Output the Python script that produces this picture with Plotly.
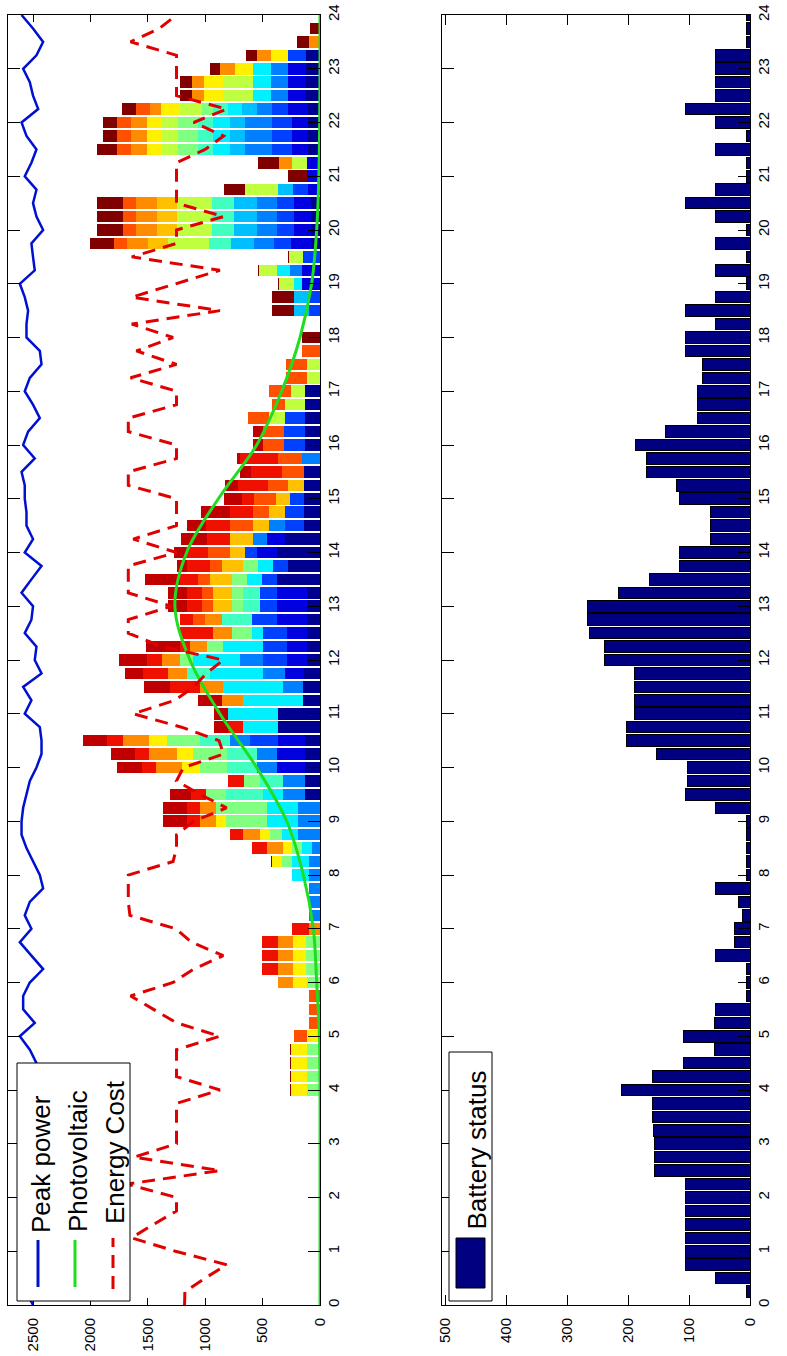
import plotly.graph_objects as go

W, H = 787, 1356

# ---------------- data ----------------
slot_hours = [i / 4 for i in range(97)]          # 15-minute slots, 0 .. 24 h
hour_ticks = list(range(25))
power_ticks = [0, 500, 1000, 1500, 2000, 2500]
battery_ticks = [0, 100, 200, 300, 400, 500]

pv_hours = list(range(25))
photovoltaic = [0, 0, 0, 0, 0, 5, 29, 58, 145, 290, 552, 872, 1133, 1264, 1162,
                886, 552, 334, 174, 73, 29, 10, 3, 0, 0]

energy_cost = [1180, 1177, 1000, 814, 1260, 1642, 1450, 1250, 1250, 1680, 872, 1620,
               1250, 1250, 1250, 1250, 872, 1250, 1250, 1250, 872, 1250, 1450, 1650,
               1280, 1100, 843, 1120, 1255, 1656, 1670, 1670, 1670, 1280, 1250, 1250,
               1100, 814, 1046, 1250, 1190, 840, 880, 1206, 1627, 1264, 1100, 990,
               843, 1380, 1670, 1670, 1293, 1670, 1670, 1670, 1250, 1627, 1250, 1250,
               1250, 1670, 1670, 1250, 1250, 1670, 1670, 1250, 1250, 1650, 1250, 1600,
               1280, 1640, 872, 1640, 1250, 872, 1640, 1250, 1250, 840, 1250, 1250,
               1250, 1250, 1000, 840, 1100, 814, 1250, 1250, 1250, 1250, 1650, 1400,
               1250]

peak_power = [2500, 2560, 2470, 2530, 2600, 2480, 2520, 2450, 2560, 2590, 2500, 2440,
              2520, 2580, 2490, 2540, 2470, 2510,
              2470, 2528, 2615, 2485, 2586, 2586,
              2528, 2412, 2514, 2615, 2514, 2572, 2528, 2412, 2441, 2500, 2557, 2600,
              2600, 2586, 2557, 2528, 2470, 2426, 2426, 2441, 2572, 2514, 2586, 2426,
              2485, 2470, 2572, 2514, 2500, 2600, 2514, 2426, 2572, 2500, 2557, 2557,
              2572, 2572, 2600, 2485, 2586, 2543, 2441, 2500, 2572, 2528, 2426, 2441,
              2557, 2557, 2543, 2572, 2615, 2485, 2500, 2514, 2412, 2470, 2500, 2470,
              2572, 2514, 2470, 2557, 2600, 2455, 2500, 2528, 2586, 2470, 2412, 2500,
              2600]

battery_status = [0, 5, 57, 105, 105, 105, 105, 105, 105, 105, 156, 156,
                  156, 158, 160, 160, 210, 160, 109, 59, 109, 59, 56, 5,
                  5, 5, 56, 25, 25, 12, 19, 56, 5, 5, 5, 5,
                  5, 56, 105, 103, 103, 154, 203, 203, 190, 190, 190, 190,
                  239, 239, 263, 266, 266, 216, 164, 116, 116, 64, 64, 64,
                  116, 120, 169, 169, 187, 138, 86, 86, 86, 78, 78, 105,
                  105, 56, 105, 56, 5, 56, 5, 56, 5, 56, 105, 56,
                  5, 5, 56, 5, 56, 105, 56, 56, 56, 56, 5, 5,
                  5]

# appliance loads per 15-min slot (slots 0..15 are empty)
load01 = [0] * 16 + [0] * 20 + [
    0, 0, 131, 131, 131, 131, 131, 363, 363, 145, 145, 140, 116, 116, 116, 116,
    116, 116, 378, 276, 378, 305, 140, 140, 140, 140, 140, 0, 131, 131, 131, 131,
    131, 0, 0, 0, 0, 0, 0, 0, 0, 0, 0, 80, 80, 80, 80, 0,
    0, 0, 102, 102, 102, 102, 122, 122, 122, 122, 0, 0, 0]
load02 = [0] * 16 + [0] * 24 + [
    247, 247, 232, 0, 0, 0, 0, 166, 174, 174, 174, 261, 261, 261, 0, 0,
    174, 160, 0, 0] + [0] * 16 + [
    160, 160, 0, 174, 150, 150, 150, 102, 110, 110, 145, 145, 145, 174, 154, 154,
    154, 0, 0, 0, 0]
load03 = [0] * 16 + [0] * 24 + [
    0, 0, 247, 0, 0, 0, 0, 0, 203, 203, 203, 218, 145, 145, 131, 131,
    102, 0, 166, 166, 122, 0, 0, 0, 180, 180, 174, 0, 0, 0, 0, 0,
    0, 0, 100, 100, 0, 0, 146, 145, 145, 145, 145, 131, 0, 0, 174, 174,
    174, 145, 0, 0, 0, 154, 0, 0, 0]
load04 = [0] * 16 + [0] * 12 + [
    0, 100, 100, 100, 100, 100, 70, 190, 190, 190, 189, 189, 174, 174, 174, 0,
    0, 0, 180, 189, 203, 0, 0, 0, 0, 0, 0, 0, 0, 116, 137, 0,
    0, 0, 0, 160] + [0] * 12 + [
    0, 102, 0, 174, 174, 174, 174, 0, 0, 0, 232, 232, 232, 131, 154, 154,
    154, 0, 0, 0, 0]
load05 = [0] * 16 + [0] * 56 + [
    0, 0, 125, 125, 0, 0, 0, 203, 203, 203, 203, 131, 0, 0, 131, 131,
    131, 131, 0, 0, 0, 0, 0, 0, 0]
load06 = [0] * 16 + [0] * 16 + [
    145, 145, 90, 145, 275, 275, 175, 0, 0, 0, 0, 305, 436, 523, 517, 465,
    407, 349, 102, 0, 0, 0, 131, 131] + [0] * 20 + [
    67, 116, 0, 0, 0, 0, 0, 0, 0, 0, 145, 145, 145, 116, 157, 157,
    157, 0, 0, 0, 0]
load07 = [0] * 16 + [0] * 20 + [
    0, 0, 320, 203, 262, 262, 262, 0, 0, 0, 0, 203, 0, 0, 0, 262,
    145, 145, 0, 0] + [0] * 20 + [
    0, 0, 0, 189, 189, 189, 189, 0, 0, 0, 131, 131, 131, 131, 0, 0,
    0, 0, 0, 0, 0]
load08 = [0] * 16 + [
    116, 116, 116, 116, 0, 0, 0, 0, 116, 122, 122, 122, 0, 0, 0, 0,
    0, 87, 87, 100, 350, 437, 175, 137, 232, 290, 290, 0, 0, 0, 0, 0,
    116, 145, 174, 0, 102, 102, 131, 131] + [0] * 28 + [
    0, 0, 174, 174, 174, 102, 0, 0, 0, 0, 0, 0, 0]
load09 = [0] * 16 + [0] * 48 + [
    0, 0, 137, 174, 122, 116, 116, 0, 0, 0, 0, 0, 128, 151, 125, 359,
    305, 305, 305, 290, 0, 137, 145, 145, 145, 189, 262, 262, 0, 0, 0, 0,
    0]
load10 = [0] * 16 + [
    134, 134, 134, 134, 110, 0, 0, 0, 116, 116, 116, 116, 0, 0, 0, 0,
    0, 87, 73, 87, 87, 0, 0, 0, 160, 145, 151, 0] + [0] * 40 + [
    0, 0, 131, 131, 131, 160, 163, 163, 154, 154, 0, 0, 0]
load11 = [0] * 16 + [0] * 36 + [
    160, 160, 189, 189, 131, 203, 140, 137, 125, 137, 0, 0] + [0] * 12 + [
    0, 0, 0, 174, 174, 174, 174, 0] + [0] * 12 + [0]
load12 = [0] * 16 + [
    0, 0, 0, 0, 0, 0, 0, 0, 130, 125, 125, 125, 100, 0, 0, 0,
    0, 0, 145, 150, 145, 145, 0, 0, 224, 238, 227, 0, 0, 189, 203, 160,
    160, 145, 160, 145] + [0] * 24 + [
    0, 0, 0, 180, 180, 180, 180, 0, 0, 107, 137, 137, 137, 102, 107, 107,
    131, 116, 100, 0, 0]
load13 = [0] * 16 + [
    0, 0, 0, 0, 116, 92, 92, 92] + [0] * 24 + [
    0, 0, 0, 102, 102, 102, 102, 102, 189, 0, 203, 140, 189, 180, 195, 203,
    183, 183, 183, 116, 189, 180, 180, 160, 0, 0, 0, 0, 0, 0, 0, 116,
    116, 116, 116, 0, 0, 0, 125, 125, 125, 116, 0, 0, 0, 0, 0, 0, 0]
load14 = [0] * 16 + [
    0, 0, 0, 0, 0, 0, 0, 0, 0, 145, 145, 145, 145, 0, 0, 0,
    0, 0, 125, 116, 116, 116, 131, 145, 125, 125, 145, 131, 0, 0, 262, 218,
    131, 87, 291, 116, 131, 131, 160, 203, 189, 203, 203, 203, 107, 256, 262, 334] + [0] * 33
load15 = [0] * 16 + [0] * 20 + [
    203, 203, 183, 0, 212, 212, 203, 122, 122, 209, 224, 160, 238, 299, 0, 0,
    166, 166, 299, 87, 110, 227, 168, 247, 154, 116, 96, 29, 93, 93, 0, 0] + [0] * 29
load16 = [0] * 16 + [
    8, 8, 8, 8, 0, 0, 0, 0, 0, 0, 0, 0, 0, 0, 0, 0,
    0, 6, 0, 0] + [0] * 36 + [
    160, 0, 195, 195, 8, 8, 8, 206, 230, 230, 230, 183, 166, 183, 174, 116,
    116, 125, 102, 102, 87, 99, 100, 87, 0]

loads = [load01, load02, load03, load04, load05, load06, load07, load08,
         load09, load10, load11, load12, load13, load14, load15, load16]
loads = [(l + [0] * 97)[:97] for l in loads]

# ---------------- styles ----------------
palette = ["#000090", "#0000E0", "#0040FF", "#0080FF", "#00BFFF", "#00F0FF",
           "#40FFC0", "#80FF80", "#C0FF40", "#FFF000", "#FFC000", "#FF8C00",
           "#FF5000", "#F01000", "#C00000", "#800000"]
FONT = "Liberation Sans, Arial, sans-serif"
BLUE, GREEN, RED, NAVY = "#0010D0", "#20DD20", "#E00000", "#000080"
DASH = "13px,8px"

fig = go.Figure()

for vals, col in zip(loads, palette):
    fig.add_trace(go.Bar(x=vals, y=slot_hours, orientation="h", width=0.215,
                         marker=dict(color=col, line=dict(width=0)),
                         xaxis="x", yaxis="y", showlegend=False, hoverinfo="skip"))

fig.add_trace(go.Scatter(x=peak_power, y=slot_hours, mode="lines",
                         line=dict(color=BLUE, width=2.5), xaxis="x", yaxis="y",
                         showlegend=False))
fig.add_trace(go.Scatter(x=photovoltaic, y=pv_hours, mode="lines",
                         line=dict(color=GREEN, width=3, shape="spline"),
                         xaxis="x", yaxis="y", showlegend=False))
fig.add_trace(go.Scatter(x=energy_cost, y=slot_hours, mode="lines",
                         line=dict(color=RED, width=3, dash=DASH),
                         xaxis="x", yaxis="y", showlegend=False))

fig.add_trace(go.Bar(x=battery_status, y=slot_hours, orientation="h", width=0.215,
                     marker=dict(color=NAVY, line=dict(color="black", width=1)),
                     xaxis="x2", yaxis="y2", showlegend=False))

axis_font = dict(family=FONT, size=15, color="black")
common = dict(showline=True, linecolor="black", linewidth=1, mirror="ticks",
              ticks="inside", tickcolor="black", tickwidth=1, showgrid=False,
              zeroline=False, tickfont=axis_font, tickangle=-90, fixedrange=True,
              automargin=False)

ydom = [1 - 1305 / H, 1 - 15 / H]
fig.update_layout(
    template="none",
    width=W, height=H, margin=dict(l=0, r=0, t=0, b=0, pad=0),
    paper_bgcolor="white", plot_bgcolor="white", barmode="stack",
    xaxis=dict(domain=[8 / W, 320 / W], range=[2718, 0], tickvals=power_ticks,
               ticklen=7, anchor="y", ticklabelstandoff=6, **common),
    yaxis=dict(domain=ydom, range=[0, 24], tickvals=hour_ticks, side="right",
               ticklen=12, anchor="x", **common),
    xaxis2=dict(domain=[442 / W, 750 / W], range=[505, 0], tickvals=battery_ticks,
                ticklen=10, anchor="y2", ticklabelstandoff=6, **common),
    yaxis2=dict(domain=ydom, range=[0, 24], tickvals=hour_ticks, side="right",
                ticklen=12, anchor="x2", **common),
)

def px(p):
    return p / W

def py(p):
    return 1 - p / H

shapes = [
    # power legend
    dict(type="rect", xref="paper", yref="paper", x0=px(17), x1=px(130), y0=py(1301), y1=py(1063),
         fillcolor="white", line=dict(color="black", width=1), layer="above"),
    dict(type="line", xref="paper", yref="paper", x0=px(38), x1=px(38), y0=py(1287), y1=py(1240),
         line=dict(color=BLUE, width=3), layer="above"),
    dict(type="line", xref="paper", yref="paper", x0=px(75), x1=px(75), y0=py(1287), y1=py(1240),
         line=dict(color=GREEN, width=3), layer="above"),
    dict(type="line", xref="paper", yref="paper", x0=px(113), x1=px(113), y0=py(1289), y1=py(1238),
         line=dict(color=RED, width=3, dash=DASH), layer="above"),
    # battery legend
    dict(type="rect", xref="paper", yref="paper", x0=px(449), x1=px(492), y0=py(1301), y1=py(1052),
         fillcolor="white", line=dict(color="black", width=1), layer="above"),
    dict(type="rect", xref="paper", yref="paper", x0=px(456), x1=px(485), y0=py(1288), y1=py(1238),
         fillcolor=NAVY, line=dict(color="black", width=1), layer="above"),
]

leg_font = dict(family=FONT, size=26, color="black")
annotations = [
    dict(text="Peak power", x=px(41), y=py(1235), xref="paper", yref="paper",
         textangle=-90, xanchor="center", yanchor="bottom", showarrow=False, font=leg_font),
    dict(text="Photovoltaic", x=px(78), y=py(1234), xref="paper", yref="paper",
         textangle=-90, xanchor="center", yanchor="bottom", showarrow=False, font=leg_font),
    dict(text="Energy Cost", x=px(115), y=py(1226), xref="paper", yref="paper",
         textangle=-90, xanchor="center", yanchor="bottom", showarrow=False, font=leg_font),
    dict(text="Battery status", x=px(476), y=py(1232), xref="paper", yref="paper",
         textangle=-90, xanchor="center", yanchor="bottom", showarrow=False, font=leg_font),
]

fig.update_layout(shapes=shapes, annotations=annotations)

fig.write_html("out.html",
               config={"displayModeBar": False, "staticPlot": True},
               post_script="document.body.style.margin='0px';document.body.style.overflow='hidden';")
